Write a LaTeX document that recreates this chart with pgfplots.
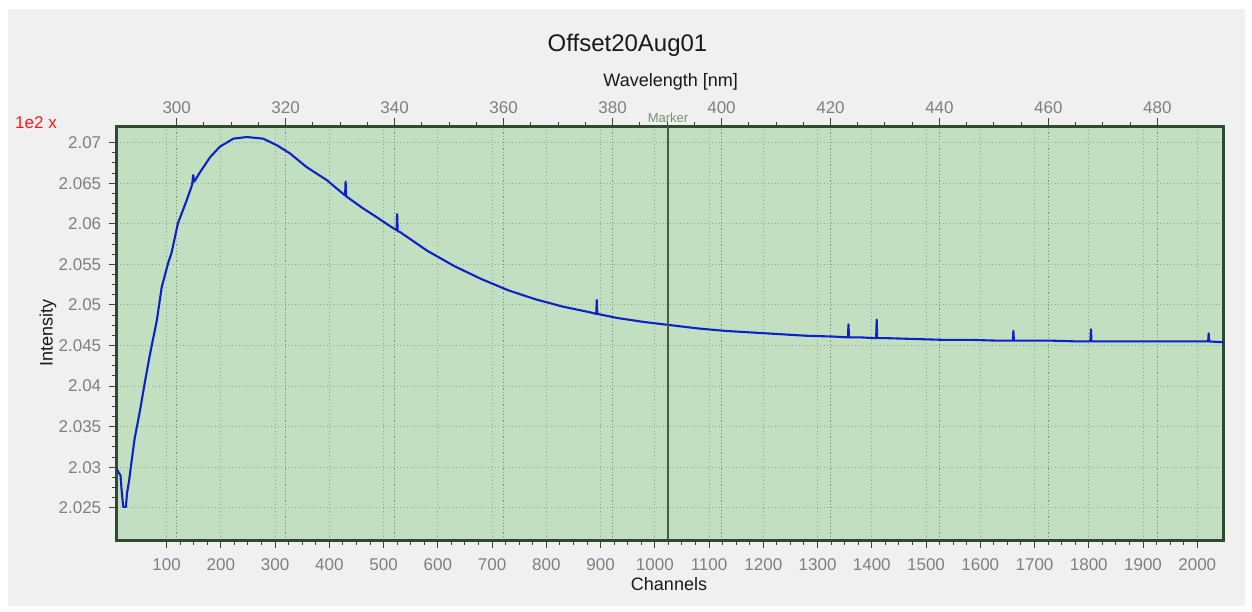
\documentclass[border=0pt]{standalone}
\usepackage{pgfplots}
\pgfplotsset{compat=1.18}
\usepackage{fontspec}
\setmainfont{Liberation Sans}

\definecolor{figbg}{HTML}{F0F0F0}
\definecolor{plotbg}{HTML}{C3DFC1}
\definecolor{framec}{HTML}{2F4A2F}
\definecolor{gridc}{HTML}{8FAA8F}
\definecolor{gridw}{HTML}{7A957A}
\definecolor{ticklab}{HTML}{7F7F7F}
\definecolor{curve}{HTML}{0A22C8}
\definecolor{markerc}{HTML}{3F5F3F}
\definecolor{markertxt}{HTML}{6A9A6A}

\newcommand{\tickfont}{\fontsize{17}{19}\selectfont}
\newcommand{\labfont}{\fontsize{18}{20}\selectfont}

\begin{document}
\begin{tikzpicture}
\fill[white] (0,0) rectangle (1252pt,-611pt);
\fill[figbg] (8pt,-9pt) rectangle (1245pt,-606pt);

% wavelength axis on top: background and its grid
\begin{axis}[
  at={(116.7pt,-540pt)}, anchor=south west,
  scale only axis, width=1106.6pt, height=414pt,
  xmin=288.99, xmax=492.1, ymin=0, ymax=1,
  axis x line*=top, axis y line=none,
  axis line style={draw=none},
  axis background/.style={fill=plotbg},
  xtick={300,320,...,480}, minor x tick num=3,
  tick align=outside,
  major tick length=8pt, minor tick length=4.5pt,
  tick style={framec, line width=1pt},
  xmajorgrids,
  major grid style={gridw, dash pattern=on 1.2pt off 2pt, line width=1pt},
  tick label style={font=\tickfont, text=ticklab},
  xticklabel style={yshift=1pt},
  /pgf/number format/assume math mode=true,
  xlabel={Wavelength [nm]},
  xlabel style={font=\labfont, text=black!90, at={(axis description cs:0.5006,1.107)}, anchor=center},
]
\end{axis}

% channel axis with the spectrum
\begin{axis}[
  at={(116.7pt,-540pt)}, anchor=south west,
  scale only axis, width=1106.6pt, height=414pt,
  xmin=8, xmax=2048, ymin=2.02102, ymax=2.07206,
  axis line style={framec, line width=3pt},
  xtick={100,200,...,2000}, minor x tick num=3,
  ytick={2.025,2.03,2.035,2.04,2.045,2.05,2.055,2.06,2.065,2.07},
  yticklabels={2.025,2.03,2.035,2.04,2.045,2.05,2.055,2.06,2.065,2.07},
  minor y tick num=3,
  xtick pos=bottom, ytick pos=left, tick align=outside,
  major tick length=8pt, minor tick length=4.5pt,
  tick style={framec, line width=1pt},
  xmajorgrids, ymajorgrids,
  major grid style={gridc, dash pattern=on 1pt off 2.5pt, line width=1pt},
  tick label style={font=\tickfont, text=ticklab},
  xticklabel style={yshift=-7pt},
  yticklabel style={xshift=-4pt},
  /pgf/number format/assume math mode=true,
  /pgf/number format/1000 sep={},
  xlabel={Channels},
  xlabel style={font=\labfont, text=black!90, at={(axis description cs:0.4991,-0.1063)}, anchor=center},
  ylabel={Intensity},
  ylabel style={font=\labfont, text=black!90, at={(axis description cs:-0.0621,0.5)}, anchor=center, rotate=0},
]
\addplot[curve, line width=2.1pt, sharp plot, line join=round] coordinates {
(9,2.0297) (12,2.0293) (15,2.0290) (17,2.0272) (20,2.0251) (25,2.0251)
(27,2.0268) (31,2.0284) (34,2.0300) (41,2.0335) (51,2.0370) (60,2.0405)
(69,2.0438) (82,2.0481) (91,2.0522) (103,2.0552) (109,2.0564) (121,2.0601)
(137,2.0629) (147,2.0648) (149,2.0660) (151,2.0652) (161,2.0663) (180,2.0682)
(198,2.0695) (223,2.0705) (248,2.0707) (278,2.0705) (303,2.0697) (327,2.0687)
(358,2.0670) (395,2.0654) (429,2.0635) (430,2.0652) (431,2.0634) (460,2.0620)
(490,2.0607) (510,2.0598) (524,2.0592) (525,2.0612) (526,2.0591) (530,2.0590)
(580,2.0567) (630,2.0548) (680,2.0532) (730,2.0518) (780,2.0507) (830,2.0498)
(880,2.0491) (892,2.0489) (893,2.0506) (894,2.0489) (930,2.0484) (980,2.0479)
(1030,2.0475) (1080,2.0471) (1130,2.0468) (1180,2.0466) (1230,2.0464) (1280,2.0462)
(1330,2.0461) (1356,2.0460) (1357,2.0476) (1358,2.0460) (1380,2.0460) (1408,2.0459)
(1409,2.0482) (1410,2.0459) (1430,2.0459) (1480,2.0458) (1530,2.0457) (1580,2.0457)
(1630,2.0456) (1660,2.0456) (1661,2.0468) (1662,2.0456) (1680,2.0456) (1730,2.0456)
(1780,2.0455) (1803,2.0455) (1804,2.0470) (1805,2.0455) (1830,2.0455) (1880,2.0455)
(1930,2.0455) (1980,2.0455) (2020,2.0455) (2021,2.0465) (2022,2.0455) (2048,2.0454)
};
% marker line
\draw[markerc, line width=1.8pt]
  ({axis cs:1024,2.05}|-{rel axis cs:0,0}) -- ({axis cs:1024,2.05}|-{rel axis cs:0,1});
\end{axis}

% title, scale note, marker label
\node[font=\fontsize{24}{26}\selectfont, text=black!90] at (627.5pt,-45pt) {Offset20Aug01};
\node[font=\fontsize{17}{19}\selectfont, text=red!90!white, anchor=west, inner sep=0pt] at (15pt,-122.7pt) {1e2 x};
\node[font=\fontsize{13}{15}\selectfont, text=markertxt] at (668pt,-117.5pt) {Marker};

\pgfresetboundingbox
\path (0,0) rectangle (1252pt,-611pt);
\end{tikzpicture}
\end{document}
